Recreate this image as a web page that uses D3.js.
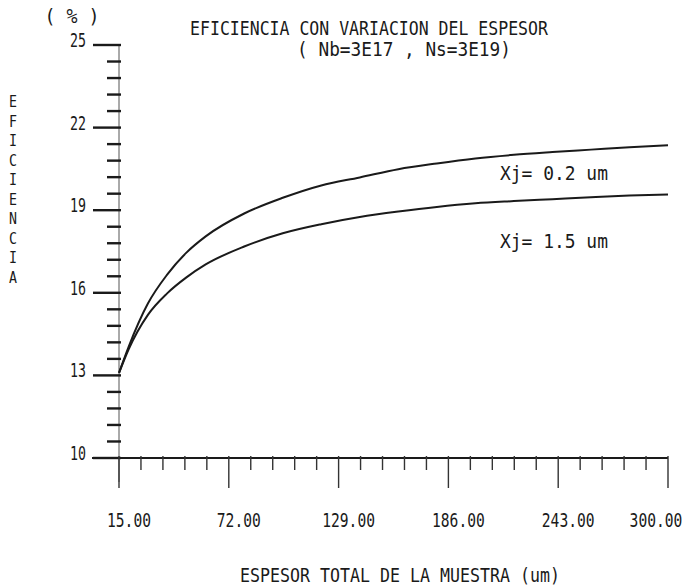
<!DOCTYPE html>
<html>
<head>
<meta charset="utf-8">
<script src="https://cdn.jsdelivr.net/npm/d3@7"></script>
<style>
  body { margin: 0; background: #fff; }
  svg text { font-family: "DejaVu Sans Mono", monospace; fill: #1a1a1a; }
</style>
</head>
<body>
<div id="grafico"></div>
<script>
// datos
var espesor = [15, 20, 30, 40, 50, 60, 80, 100, 120, 140, 160, 180, 200, 220, 240, 260, 280, 300];
var efXj02 = [13.09, 14.04, 15.61, 16.66, 17.46, 18.05, 18.88, 19.45, 19.90, 20.19, 20.49, 20.70, 20.88, 21.01, 21.11, 21.20, 21.29, 21.36];
var efXj15 = [13.09, 13.95, 15.20, 15.98, 16.56, 17.03, 17.68, 18.16, 18.49, 18.75, 18.95, 19.12, 19.25, 19.33, 19.40, 19.47, 19.53, 19.57];
var xMayores = [15, 72, 129, 186, 243, 300];
var xEtiquetas = ["15.00", "72.00", "129.00", "186.00", "243.00", "300.00"];
var yMayores = [10, 13, 16, 19, 22, 25];
var yEtiquetas = ["10", "13", "16", "19", "22", "25"];

var ancho = 694, alto = 588;
var x = d3.scaleLinear().domain([15, 300]).range([119, 668]);
var y = d3.scaleLinear().domain([10, 25]).range([458, 45]);

var svg = d3.select("#grafico").append("svg")
    .attr("width", ancho)
    .attr("height", alto);

//texto angosto estilo plotter (se escala en x)
function texto(cad, px, py, tam, anchoCar, ancla) {
    var sx = anchoCar / (0.602 * tam);
    var t = svg.append("text")
        .attr("transform", "translate(" + px + "," + py + ") scale(" + sx + ",1)")
        .attr("font-size", tam)
        .attr("text-anchor", ancla || "start")
        .text(cad);
    return t;
}

// eje y
svg.append("line")
    .attr("x1", x(15)).attr("x2", x(15))
    .attr("y1", y(25)).attr("y2", 482)
    .attr("stroke", "#555").attr("stroke-width", 1);

var yMenores = d3.range(0, 26).map(function (i) { return 10 + i * 0.6; });
svg.append("g").selectAll("line")
    .data(yMenores)
    .enter().append("line")
    .attr("x1", function (d, i) { return i % 5 == 0 ? 93 : 107; })
    .attr("x2", x(15) + 2)
    .attr("y1", function (d) { return y(d); })
    .attr("y2", function (d) { return y(d); })
    .attr("stroke", "#1a1a1a")
    .attr("stroke-width", 2.4);

// eje x
svg.append("line")
    .attr("x1", 92).attr("x2", x(300))
    .attr("y1", y(10)).attr("y2", y(10))
    .attr("stroke", "#1a1a1a").attr("stroke-width", 2.2);

var xMenores = d3.range(0, 26).map(function (i) { return 15 + i * 11.4; });
svg.append("g").selectAll("line")
    .data(xMenores)
    .enter().append("line")
    .attr("x1", function (d) { return x(d); })
    .attr("x2", function (d) { return x(d); })
    .attr("y1", y(10) - 2)
    .attr("y2", function (d, i) { return i % 5 == 0 ? y(10) + 30 : y(10) + 12; })
    .attr("stroke", "#333")
    .attr("stroke-width", 1.4);

// etiquetas de ticks
xMayores.forEach(function (v, i) {
    texto(xEtiquetas[i], Math.min(x(v) + 10, 656), 527, 20, 8.8, "middle");
});
yMayores.forEach(function (v, i) {
    texto(yEtiquetas[i], 86, y(v) + 2, 20, 8, "end");
});

// curvas
var linea = d3.line()
    .x(function (d) { return x(d[0]); })
    .y(function (d) { return y(d[1]); })
    .curve(d3.curveMonotoneX);

[efXj02, efXj15].forEach(function (serie) {
    svg.append("path")
        .datum(espesor.map(function (e, i) { return [e, serie[i]]; }))
        .attr("d", linea)
        .attr("fill", "none")
        .attr("stroke", "#1a1a1a")
        .attr("stroke-width", 2);
});

// rotulos
texto("Xj= 0.2 um", 500, 180, 20, 10.8);
texto("Xj= 1.5 um", 500, 248, 20, 10.8);

texto("EFICIENCIA CON VARIACION DEL ESPESOR", 369, 35, 20, 9.95, "middle");
texto("( Nb=3E17 , Ns=3E19)", 404, 56, 19, 10.7, "middle");
texto("( % )", 72, 23, 20, 11, "middle");
texto("ESPESOR TOTAL DE LA MUESTRA (um)", 400, 582, 20, 10, "middle");

var tituloY = "EFICIENCIA".split("");
tituloY.forEach(function (c, i) {
    texto(c, 13, 107 + i * 19.5, 16, 8, "middle");
});
</script>
</body>
</html>
